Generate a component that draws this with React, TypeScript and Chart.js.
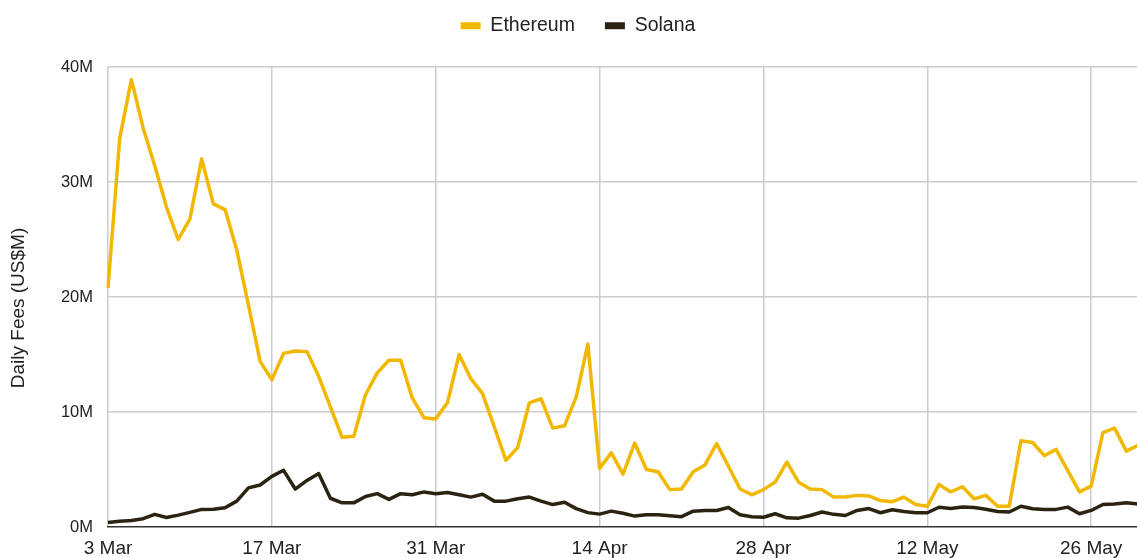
import { useEffect, useRef } from 'react';
import { Chart, registerables } from 'chart.js';

Chart.register(...registerables);

const dates = [
  '3 Mar', '4 Mar', '5 Mar', '6 Mar', '7 Mar', '8 Mar', '9 Mar', '10 Mar', '11 Mar', '12 Mar',
  '13 Mar', '14 Mar', '15 Mar', '16 Mar', '17 Mar', '18 Mar', '19 Mar', '20 Mar', '21 Mar', '22 Mar',
  '23 Mar', '24 Mar', '25 Mar', '26 Mar', '27 Mar', '28 Mar', '29 Mar', '30 Mar', '31 Mar',
  '1 Apr', '2 Apr', '3 Apr', '4 Apr', '5 Apr', '6 Apr', '7 Apr', '8 Apr', '9 Apr', '10 Apr',
  '11 Apr', '12 Apr', '13 Apr', '14 Apr', '15 Apr', '16 Apr', '17 Apr', '18 Apr', '19 Apr', '20 Apr',
  '21 Apr', '22 Apr', '23 Apr', '24 Apr', '25 Apr', '26 Apr', '27 Apr', '28 Apr', '29 Apr', '30 Apr',
  '1 May', '2 May', '3 May', '4 May', '5 May', '6 May', '7 May', '8 May', '9 May', '10 May',
  '11 May', '12 May', '13 May', '14 May', '15 May', '16 May', '17 May', '18 May', '19 May', '20 May',
  '21 May', '22 May', '23 May', '24 May', '25 May', '26 May', '27 May', '28 May', '29 May', '30 May',
];

const ethereumFees = [
  20.8, 33.8, 38.9, 34.7, 31.4, 27.8, 25.0, 26.8, 32.0, 28.1,
  27.6, 24.1, 19.3, 14.4, 12.8, 15.1, 15.3, 15.25, 13.1, 10.45,
  7.8, 7.9, 11.5, 13.4, 14.5, 14.5, 11.2, 9.5, 9.4,
  10.8, 15.0, 12.9, 11.6, 8.7, 5.8, 6.9, 10.8, 11.15, 8.6,
  8.8, 11.3, 15.9, 5.1, 6.45, 4.6, 7.3, 5.0, 4.8, 3.25,
  3.3, 4.8, 5.4, 7.25, 5.3, 3.3, 2.8, 3.25, 3.9, 5.65,
  3.9, 3.3, 3.25, 2.6, 2.6, 2.75, 2.7, 2.3, 2.2, 2.6,
  1.95, 1.8, 3.7, 3.05, 3.5, 2.45, 2.75, 1.8, 1.8, 7.5,
  7.35, 6.2, 6.75, 4.9, 3.05, 3.55, 8.2, 8.6, 6.6, 7.1,
];

const solanaFees = [
  0.4, 0.5, 0.57, 0.72, 1.1, 0.83, 1.03, 1.27, 1.53, 1.55,
  1.67, 2.25, 3.4, 3.65, 4.4, 4.93, 3.3, 4.05, 4.65, 2.5,
  2.1, 2.1, 2.65, 2.9, 2.4, 2.9, 2.8, 3.05, 2.9,
  3.0, 2.8, 2.6, 2.85, 2.25, 2.25, 2.45, 2.6, 2.25, 1.95,
  2.15, 1.6, 1.25, 1.12, 1.38, 1.2, 0.95, 1.06, 1.06, 0.98,
  0.9, 1.38, 1.44, 1.44, 1.7, 1.06, 0.9, 0.85, 1.15, 0.8,
  0.77, 1.0, 1.3, 1.1, 1.0, 1.44, 1.6, 1.24, 1.5, 1.35,
  1.24, 1.24, 1.72, 1.6, 1.73, 1.7, 1.55, 1.35, 1.3, 1.8,
  1.58, 1.53, 1.53, 1.73, 1.15, 1.44, 1.96, 2.0, 2.1, 2.0,
];

const tickDates = ['3 Mar', '17 Mar', '31 Mar', '14 Apr', '28 Apr', '12 May', '26 May'];
const yMin = 0;
const yMax = 40;
const yStep = 10;

const ETH_COLOR = '#f2b800';
const SOL_COLOR = '#2b2311';
const TEXT_COLOR = '#222222';
const GRID_COLOR = '#cccccc';
const FONT = 'Arial, "Liberation Sans", sans-serif';

export default function App() {
  const ref = useRef<HTMLCanvasElement | null>(null);

  useEffect(() => {
    if (!ref.current) return;

    const legendPlacer = {
      id: 'legendPlacer',
      beforeInit(chart: any) {
        const legend = chart.legend;
        if (!legend || legend.__patched) return;
        legend.__patched = true;
        const origFit = legend.fit;
        legend.fit = function (this: any) {
          origFit.call(this);
          this.height = 67;
        };
        const origDraw = legend.draw;
        legend.draw = function (this: any, ...args: any[]) {
          const ctx = this.ctx;
          ctx.save();
          ctx.translate(4, -14);
          origDraw.apply(this, args);
          ctx.restore();
        };
      },
      afterUpdate(chart: any) {
        const s = chart.scales && chart.scales.y;
        if (!s || s.__patched) return;
        s.__patched = true;
        const origTitle = s.drawTitle;
        s.drawTitle = function (this: any, ...args: any[]) {
          const ctx = this.ctx;
          ctx.save();
          ctx.translate(0, 11);
          origTitle.apply(this, args);
          ctx.restore();
        };
      },
    };

    const chart = new Chart(ref.current, {
      type: 'line',
      data: {
        labels: dates,
        datasets: [
          {
            label: 'Ethereum',
            data: ethereumFees,
            borderColor: ETH_COLOR,
            backgroundColor: ETH_COLOR,
            borderWidth: 3.5,
            pointRadius: 0,
            tension: 0,
            borderJoinStyle: 'round',
            fill: false,
          },
          {
            label: 'Solana',
            data: solanaFees,
            borderColor: SOL_COLOR,
            backgroundColor: SOL_COLOR,
            borderWidth: 3.5,
            pointRadius: 0,
            tension: 0,
            borderJoinStyle: 'round',
            fill: false,
          },
        ],
      },
      options: {
        animation: false,
        responsive: true,
        maintainAspectRatio: false,
        layout: { autoPadding: false, padding: { left: 0, right: 0, top: 0, bottom: 0 } },
        plugins: {
          legend: {
            display: true,
            position: 'top',
            align: 'center',
            labels: {
              boxWidth: 20,
              boxHeight: 7,
              padding: 30,
              color: TEXT_COLOR,
              font: { family: FONT, size: 19.5 },
              generateLabels: (c: any) =>
                (Chart.defaults.plugins.legend.labels.generateLabels as any)(c).map((l: any) => ({
                  ...l,
                  lineWidth: 0,
                })),
            },
          },
          tooltip: { enabled: false },
        },
        scales: {
          x: {
            type: 'category',
            offset: false,
            grid: {
              drawTicks: false,
              lineWidth: 1.5,
              color: (c: any) => (tickDates.includes(dates[c.index]) ? GRID_COLOR : 'rgba(0,0,0,0)'),
            },
            border: { display: true, color: '#333333', width: 1.5 },
            ticks: {
              autoSkip: false,
              maxRotation: 0,
              minRotation: 0,
              padding: 10,
              color: TEXT_COLOR,
              font: { family: FONT, size: 19 },
              callback: (_v: any, i: number) => (tickDates.includes(dates[i]) ? dates[i] : ''),
            },
            afterFit: (s: any) => {
              s.height = 31;
            },
          },
          y: {
            min: yMin,
            max: yMax,
            border: { display: false },
            grid: {
              drawTicks: false,
              lineWidth: 1.5,
              color: (c: any) => (c.tick && c.tick.value === 0 ? 'rgba(0,0,0,0)' : GRID_COLOR),
            },
            ticks: {
              stepSize: yStep,
              padding: 15,
              color: TEXT_COLOR,
              font: { family: FONT, size: 16.5 },
              callback: (v: any) => `${v}M`,
            },
            title: {
              display: true,
              text: 'Daily Fees (US$M)',
              color: TEXT_COLOR,
              font: { family: FONT, size: 19 },
              padding: { top: 7, bottom: 4 },
            },
            afterFit: (s: any) => {
              s.width = 108;
            },
          },
        },
      },
      plugins: [legendPlacer],
    } as any);

    return () => chart.destroy();
  }, []);

  return (
    <div
      style={{
        position: 'fixed',
        left: 0,
        top: 0,
        width: 1137,
        height: 558,
        overflow: 'hidden',
        background: '#ffffff',
      }}
    >
      <div style={{ position: 'relative', width: 1148, height: 558 }}>
        <canvas ref={ref} />
      </div>
    </div>
  );
}
